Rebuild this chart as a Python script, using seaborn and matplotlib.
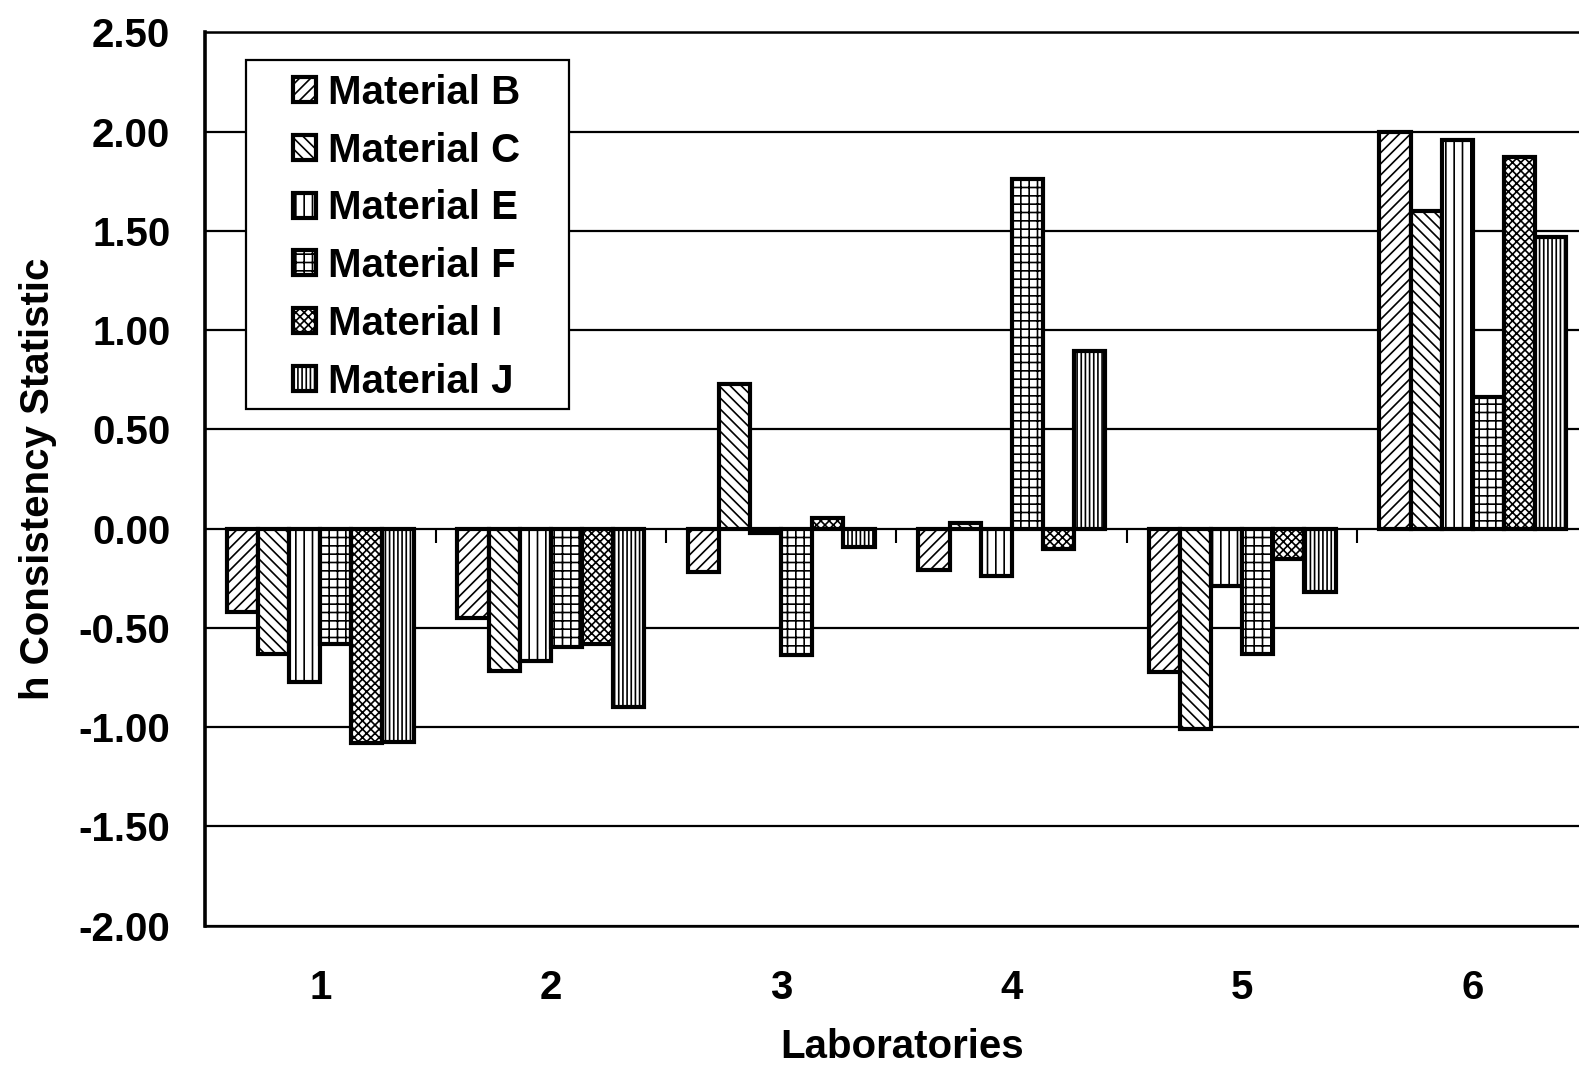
import matplotlib
matplotlib.use("Agg")
import matplotlib.pyplot as plt
import seaborn as sns
import pandas as pd
from matplotlib.patches import Patch, Rectangle

labs = ["1", "2", "3", "4", "5", "6"]
materials = ["Material B", "Material C", "Material E", "Material F", "Material I", "Material J"]
mat_B = [-0.42, -0.45, -0.22, -0.21, -0.72, 2.00]
mat_C = [-0.63, -0.715, 0.73, 0.03, -1.01, 1.60]
mat_E = [-0.77, -0.665, -0.02, -0.24, -0.29, 1.96]
mat_F = [-0.58, -0.595, -0.635, 1.76, -0.63, 0.665]
mat_I = [-1.08, -0.58, 0.055, -0.105, -0.155, 1.87]
mat_J = [-1.075, -0.90, -0.09, 0.895, -0.32, 1.47]
yticks = [2.5, 2.0, 1.5, 1.0, 0.5, 0.0, -0.5, -1.0, -1.5, -2.0]

hatches = ["///", "\\\\\\", "||", "++", "xxxx", "||||"]

series = [mat_B, mat_C, mat_E, mat_F, mat_I, mat_J]
rows = []
for m, vals in zip(materials, series):
    for lab, v in zip(labs, vals):
        rows.append({"Laboratory": lab, "Material": m, "h": v})
df = pd.DataFrame(rows)

sns.set_theme(style="white")
plt.rcParams["font.family"] = ["Liberation Sans", "DejaVu Sans"]
plt.rcParams["font.weight"] = "bold"
plt.rcParams["text.color"] = "black"
plt.rcParams["axes.labelcolor"] = "black"
plt.rcParams["xtick.color"] = "black"
plt.rcParams["ytick.color"] = "black"
plt.rcParams["hatch.linewidth"] = 1.2
plt.rcParams["hatch.color"] = "black"

fig = plt.figure(figsize=(15.79, 10.69), dpi=100)
ax = fig.add_axes([205 / 1579, 1 - 925.7 / 1069, (1588 - 205) / 1579, (925.7 - 32.3) / 1069])

sns.barplot(data=df, x="Laboratory", y="h", hue="Material", order=labs,
            hue_order=materials, width=0.81, ax=ax, legend=False,
            saturation=1, palette=["white"] * 6, edgecolor="black", linewidth=3.0)

for cont, h in zip(ax.containers, hatches):
    for bar in cont:
        bar.set_hatch(h)
        bar.set_facecolor("white")
        bar.set_edgecolor("black")

ax.set_ylim(-2.0, 2.5)
ax.set_xlim(-0.5, 5.5)
ax.set_yticks(yticks)
ax.set_yticklabels([f"{t:.2f}" for t in yticks])
ax.yaxis.grid(True, color="black", linewidth=1.6)
ax.set_axisbelow(True)
ax.tick_params(axis="y", length=0, pad=25, labelsize=29, labelcolor="black")
ax.tick_params(axis="x", length=0, pad=31, labelsize=29, labelcolor="black")
for lbl in ax.get_xticklabels() + ax.get_yticklabels():
    lbl.set_fontweight("bold")

# category tick marks on the zero line
ax.vlines([i + 0.5 for i in range(len(labs) - 1)], -0.07, 0, colors="black", linewidth=1.5, zorder=1)

for side in ["left", "top", "bottom"]:
    ax.spines[side].set_visible(True)
    ax.spines[side].set_color("black")
ax.spines["left"].set_linewidth(2.6)
ax.spines["top"].set_linewidth(1.8)
ax.spines["bottom"].set_linewidth(1.8)
ax.spines["right"].set_visible(False)

ax.set_xlabel("Laboratories", fontsize=29, fontweight="bold", color="black")
ax.set_ylabel("h Consistency Statistic", fontsize=29, fontweight="bold", color="black")
ax.xaxis.label.set_va("center")
ax.yaxis.label.set_va("center")
ax.xaxis.set_label_coords(0.504, -0.136)
ax.yaxis.set_label_coords(-0.1205, 0.5)

# legend
handles = [Patch(facecolor="white", edgecolor="black", hatch=h, linewidth=3.0, label=m)
           for h, m in zip(hatches, materials)]
leg = ax.legend(handles=handles, loc="upper left", bbox_to_anchor=(0.0636, 0.9535),
                frameon=False, fontsize=29, handlelength=0.58, handleheight=0.58,
                handletextpad=0.28, labelspacing=0.49, borderpad=0, borderaxespad=0)
for t in leg.get_texts():
    t.set_fontweight("bold")
    t.set_color("black")
ax.add_patch(Rectangle((0.0293, 0.578), 0.234, 0.391, transform=ax.transAxes,
                       facecolor="white", edgecolor="black", linewidth=1.6, zorder=4))
leg.set_zorder(5)

fig.savefig("out.png", dpi=100)
